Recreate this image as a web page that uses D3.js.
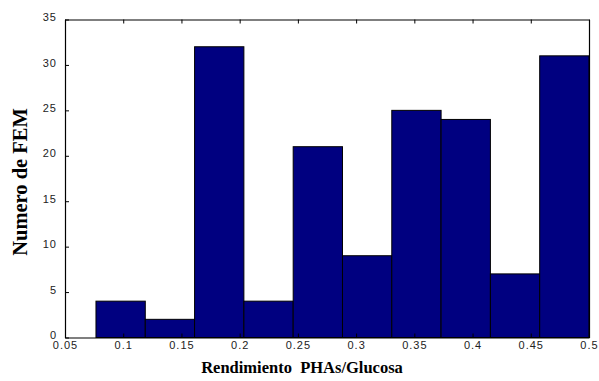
<!DOCTYPE html>
<html>
<head>
<meta charset="utf-8">
<script src="https://cdn.jsdelivr.net/npm/d3@7"></script>
<style>
  body { margin: 0; background: #fff; }
  .tick text { font-family: Arial, "Liberation Sans", sans-serif; font-size: 11px; fill: #222; letter-spacing: 1px; }
</style>
</head>
<body>
<div id="chart"></div>
<script>
// histogram bins: edges between binStart and binEnd, one count per bin
const binStart = 0.0766;
const binEnd = 0.5;
const counts = [4, 2, 32, 4, 21, 9, 25, 24, 7, 31];
const xTicks = [0.05, 0.1, 0.15, 0.2, 0.25, 0.3, 0.35, 0.4, 0.45, 0.5];
const yTicks = [0, 5, 10, 15, 20, 25, 30, 35];

const W = 599, H = 381;
const margins = {top: 19.5, right: 10, bottom: 43.5, left: 65};
const width = W - margins.left - margins.right;
const height = H - margins.top - margins.bottom;

const svg = d3.select("#chart")
  .append("svg")
  .attr("width", W)
  .attr("height", H);

const g = svg.append("g")
  .attr("transform", `translate(${margins.left},${margins.top})`);

const x = d3.scaleLinear().domain([0.05, 0.5]).range([0, width]);
const y = d3.scaleLinear().domain([0, 35]).range([height, 0]);

const binW = (binEnd - binStart) / counts.length;
const bins = counts.map((c, i) => ({x0: binStart + i * binW, x1: binStart + (i + 1) * binW, n: c}));

// bars
g.selectAll(".bar")
  .data(bins)
  .enter()
  .append("rect")
  .attr("x", d => x(d.x0))
  .attr("y", d => y(d.n))
  .attr("width", d => x(d.x1) - x(d.x0))
  .attr("height", d => height - y(d.n))
  .attr("fill", "#000080")
  .attr("stroke", "#000")
  .attr("stroke-width", 1);

// axes, ticks pointing inward
const fmt = d => String(d);
g.append("g")
  .attr("transform", `translate(0,${height})`)
  .call(d3.axisBottom(x).tickValues(xTicks).tickFormat(fmt).tickSizeInner(-4).tickSizeOuter(0).tickPadding(4));

g.append("g")
  .call(d3.axisTop(x).tickValues(xTicks).tickFormat("").tickSizeInner(-4).tickSizeOuter(0));

const yAxis = g.append("g")
  .call(d3.axisLeft(y).tickValues(yTicks).tickFormat(fmt).tickSizeInner(-4).tickSizeOuter(0).tickPadding(8));
yAxis.selectAll(".tick text").attr("dy", "0.1em");

g.append("g")
  .attr("transform", `translate(${width},0)`)
  .call(d3.axisRight(y).tickValues(yTicks).tickFormat("").tickSizeInner(0).tickSizeOuter(0));

g.selectAll(".domain").attr("stroke", "#000").attr("stroke-width", 1.2);
g.selectAll(".tick line").attr("stroke", "#000");

// axis titles
svg.append("text")
  .attr("x", 302)
  .attr("y", 373)
  .attr("text-anchor", "middle")
  .style("font-family", "'Liberation Serif', 'Times New Roman', serif")
  .style("font-weight", "bold")
  .style("font-size", "16.5px")
  .style("white-space", "pre")
  .text("Rendimiento  PHAs/Glucosa");

svg.append("text")
  .attr("transform", `translate(27,182) rotate(-90)`)
  .attr("text-anchor", "middle")
  .style("font-family", "'Liberation Serif', 'Times New Roman', serif")
  .style("font-weight", "bold")
  .style("font-size", "20.5px")
  .text("Numero de FEM");
</script>
</body>
</html>
